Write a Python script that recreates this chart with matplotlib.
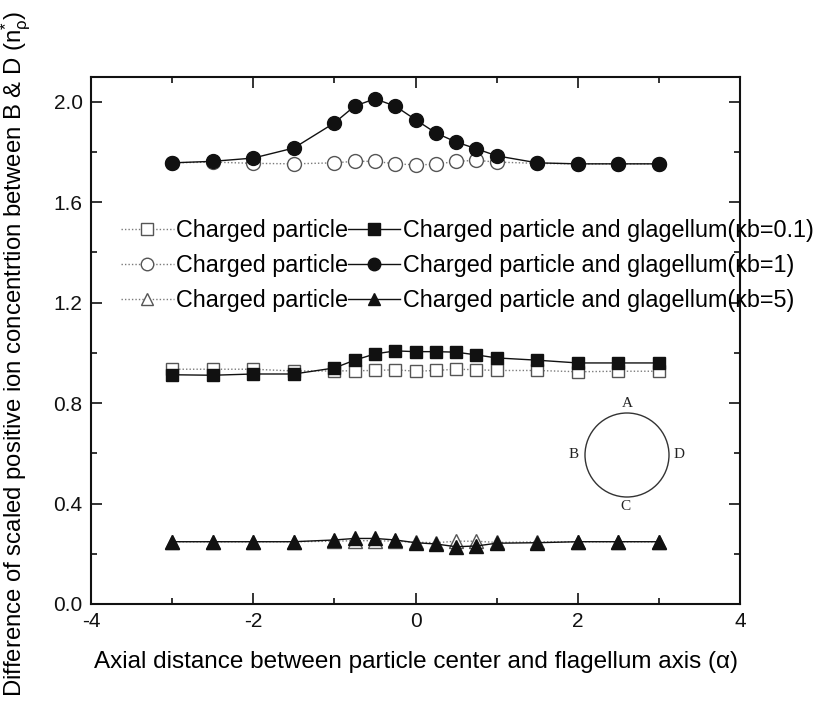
import matplotlib
matplotlib.use("Agg")
import matplotlib.pyplot as plt
from matplotlib.lines import Line2D
from matplotlib.patches import Circle

plt.rcParams['font.family'] = ['Liberation Sans', 'DejaVu Sans']
plt.rcParams['mathtext.fontset'] = 'custom'
plt.rcParams['mathtext.rm'] = 'Liberation Sans'
plt.rcParams['mathtext.it'] = 'Liberation Sans'
plt.rcParams['axes.unicode_minus'] = False

# Axial distance (alpha)
alpha = [-3, -2.5, -2, -1.5, -1, -0.75, -0.5, -0.25, 0, 0.25, 0.5, 0.75, 1, 1.5, 2, 2.5, 3]

# Charged particle only
particle_kb01 = [0.935, 0.935, 0.935, 0.928, 0.928, 0.929, 0.930, 0.933, 0.927, 0.930,
                 0.935, 0.933, 0.930, 0.930, 0.925, 0.927, 0.927]
particle_kb1 = [1.757, 1.760, 1.755, 1.753, 1.757, 1.763, 1.763, 1.753, 1.749, 1.751,
                1.763, 1.767, 1.760, 1.755, 1.753, 1.753, 1.753]
particle_kb5 = [0.248, 0.248, 0.248, 0.248, 0.250, 0.252, 0.252, 0.250, 0.246, 0.244,
                0.250, 0.250, 0.245, 0.247, 0.248, 0.248, 0.248]

# Charged particle and flagellum
flag_kb01 = [0.913, 0.911, 0.916, 0.916, 0.940, 0.971, 0.996, 1.008, 1.005, 1.005,
             1.003, 0.992, 0.980, 0.971, 0.960, 0.960, 0.960]
flag_kb1 = [1.757, 1.763, 1.776, 1.816, 1.916, 1.983, 2.012, 1.983, 1.929, 1.876,
            1.840, 1.813, 1.785, 1.757, 1.753, 1.753, 1.753]
flag_kb5 = [0.248, 0.248, 0.248, 0.248, 0.255, 0.261, 0.261, 0.255, 0.244, 0.239,
            0.228, 0.231, 0.242, 0.244, 0.248, 0.248, 0.248]

particle_label = "Charged particle"
flag_labels = ["Charged particle and glagellum(\u03bab=0.1)",
               "Charged particle and glagellum(\u03bab=1)",
               "Charged particle and glagellum(\u03bab=5)"]
markers = ["s", "o", "^"]

fig = plt.figure(figsize=(8.38, 7.13), dpi=100)
ax = fig.add_axes([0.1086, 0.1529, 0.7745, 0.7395])

open_style = dict(color="#7a7a7a", linestyle=(0, (1, 1.5)), linewidth=1.0,
                  markerfacecolor="white", markeredgecolor="#555555", markeredgewidth=1.0)
filled_style = dict(color="#111111", linestyle="-", linewidth=1.0,
                    markerfacecolor="#111111", markeredgecolor="#111111")

sizes = {"s": 9, "o": 10, "^": 10}
series = [(particle_kb01, flag_kb01), (particle_kb1, flag_kb1), (particle_kb5, flag_kb5)]
for (p, f), m in zip(series, markers):
    ax.plot(alpha, p, marker=m, markersize=sizes[m], zorder=2, **open_style)
    ax.plot(alpha, f, marker=m, markersize=sizes[m], zorder=3, **filled_style)

ax.set_xlim(-4, 4)
ax.set_ylim(0, 2.1)
ax.set_xticks([-4, -2, 0, 2, 4])
ax.set_xticks([-3, -1, 1, 3], minor=True)
ax.set_yticks([0.0, 0.4, 0.8, 1.2, 1.6, 2.0])
ax.set_yticks([0.2, 0.6, 1.0, 1.4, 1.8], minor=True)
ax.set_yticklabels(["0.0", "0.4", "0.8", "1.2", "1.6", "2.0"])
ax.tick_params(which="both", direction="in", top=True, right=True, labelsize=15,
               width=1.2, colors="#111111")
ax.tick_params(which="major", length=8, pad=6)
ax.tick_params(which="minor", length=4)
for s in ax.spines.values():
    s.set_linewidth(1.5)
    s.set_color("#111111")

ax.set_xlabel("Axial distance between particle center and flagellum axis (\u03b1)",
              fontsize=17.5, labelpad=14)
ax.set_ylabel(r"Difference of scaled positive ion concentrtion between B & D (n$_{\rho}^{*}$)",
              fontsize=17.2)
ax.yaxis.set_label_coords(-0.09, 0.474)

# Legend: open-marker column, then filled-marker column
handles = []
for m in markers:
    handles.append(Line2D([], [], marker=m, markersize=sizes[m] - 1, **open_style))
for m in markers:
    handles.append(Line2D([], [], marker=m, markersize=sizes[m] - 1, **filled_style))
labels = [particle_label] * 3 + flag_labels
leg = ax.legend(handles, labels, ncol=2, frameon=False, fontsize=16.8,
                loc="upper left", bbox_to_anchor=(0.032, 0.748),
                handlelength=2.25, handletextpad=0.1, columnspacing=0.0,
                labelspacing=0.52, borderaxespad=0.0)

# Cross-section sketch with points A-D
inset = fig.add_axes([567 / 838, 1 - 515 / 713, 120 / 838, 120 / 713])
inset.set_xlim(-60, 60)
inset.set_ylim(-60, 60)
inset.axis("off")
inset.add_patch(Circle((0, 0), 42, fill=False, edgecolor="#333333", linewidth=1.0))
serif = dict(family=["Liberation Serif", "DejaVu Serif"], fontsize=11, color="#222222")
inset.text(0, 45, "A", ha="center", va="bottom", **serif)
inset.text(-48, 0, "B", ha="right", va="center", **serif)
inset.text(47, 0, "D", ha="left", va="center", **serif)
inset.text(-2, -45, "C", ha="center", va="top", **serif)

fig.savefig("out.png", dpi=100)
